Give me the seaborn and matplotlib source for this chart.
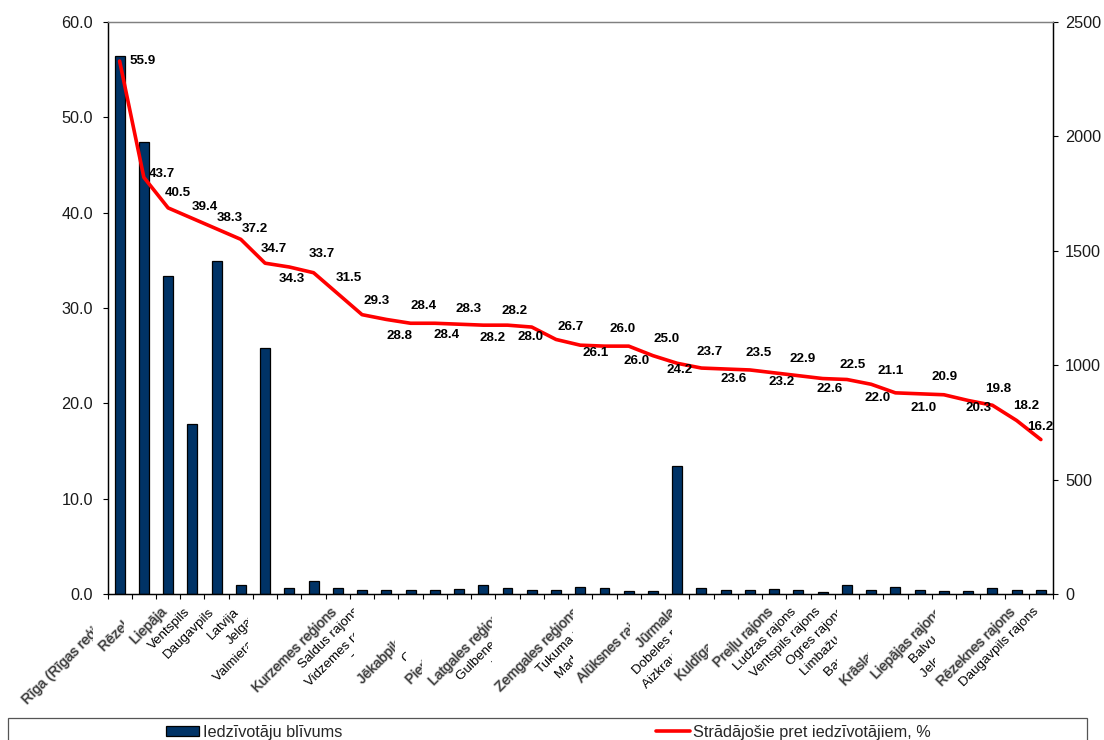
import numpy as np
import matplotlib
matplotlib.use("Agg")
import matplotlib.pyplot as plt
import matplotlib.patheffects as pe
from matplotlib.patches import Rectangle
from matplotlib.transforms import Affine2D, Bbox, IdentityTransform, TransformedBbox
import seaborn as sns

names = ["Rīga (Rīgas reģions)", "Rēzekne", "Liepāja", "Ventspils", "Daugavpils", "Latvija", "Jelgava",
         "Valmieras rajons", "Rīgas rajons", "Kurzemes reģions", "Saldus rajons", "Vidzemes reģions",
         "Talsu rajons", "Jēkabpils rajons", "Cēsu rajons", "Pierīgas reģions", "Latgales reģions",
         "Gulbenes rajons", "Valkas rajons", "Zemgales reģions", "Tukuma rajons", "Madonas rajons",
         "Alūksnes rajons", "Jūrmala", "Dobeles rajons", "Aizkraukles rajons", "Kuldīgas rajons",
         "Preiļu rajons", "Ludzas rajons", "Ventspils rajons", "Ogres rajons", "Limbažu rajons",
         "Bauskas rajons", "Krāslavas rajons", "Liepājas rajons", "Balvu rajons", "Jelgavas rajons",
         "Rēzeknes rajons", "Daugavpils rajons"]

# left axis, %
workers = [55.9, 43.7, 40.5, 39.4, 38.3, 37.2, 34.7, 34.3, 33.7, 31.5, 29.3, 28.8, 28.4, 28.4, 28.3, 28.2,
           28.2, 28.0, 26.7, 26.1, 26.0, 26.0, 25.0, 24.2, 23.7, 23.6, 23.5, 23.2, 22.9, 22.6, 22.5, 22.0,
           21.1, 21.0, 20.9, 20.3, 19.8, 18.2, 16.2]

# right axis
density = [2350, 1975, 1390, 743, 1455, 38, 1075, 25, 56, 25, 19, 19, 19, 19, 21, 40, 26, 17, 17, 30, 25,
           15, 13, 560, 25, 19, 17, 21, 16, 8, 38, 16, 30, 17, 14, 14, 25, 16, 17]

left_ticks = [0, 10, 20, 30, 40, 50, 60]
right_ticks = [0, 500, 1000, 1500, 2000, 2500]

# pixel offset of each value label from its point
label_dx = [23, 18, 10, 12, 13, 14, 9, 2, 8, 11, 15, 13, 13, 12, 10, 9, 7, -1, 15, 15, 18, 8, 14, 2, 8, 8,
            9, 7, 4, 7, 6, 6, -5, 4, 1, 10, 6, 10, -1]
label_dy = [0, 3, 15, 11, 11, 10, 14, -12, 19, 16, 14, -17, 17, -12, 15, -13, 14, -10, 12, -8, 17, -15, 17,
            -7, 16, -10, 17, -9, 17, -10, 15, -14, 22, -14, 18, -8, 16, 14, 13]

# right edge (px) where the neighbouring label box cuts each category label, None = not cut
clip_right = [93, 124, None, None, None, None, 248, 248, 0, None, 354, 354, 354, 395, 406, 422, 492, 492, 492,
              573, 573, 573, 630, 672, 672, 672, 708, None, None, None, 837, 837, 837, 868, 935, 935, 935,
              None, None]
clip_left = [0] * 39
clip_left[14] = 395
big_labels = [0, 1, 2, 9, 13, 15, 16, 19, 22, 23, 26, 27, 33, 34, 37]

sns.set_theme(style="white")
plt.rcParams["font.family"] = ["Liberation Sans", "DejaVu Sans"]

W, H = 1104, 740
fig = plt.figure(figsize=(W / 100, H / 100), dpi=100)
ax_bar = fig.add_axes([107.5 / W, 1 - 594 / H, 945.5 / W, 572 / H])

sns.barplot(x=names, y=density, ax=ax_bar, color="#003366", saturation=1, width=0.41,
            edgecolor="black", linewidth=0.9, label="Iedzīvotāju blīvums")
ax_bar.set_ylim(0, 2500)
ax_bar.set_yticks(right_ticks)

# line goes on the twin so it stays above the bars
ax_line = ax_bar.twinx()
sns.lineplot(x=names, y=workers, ax=ax_line, color="#ff0000", linewidth=2.6, sort=False,
             label="Strādājošie pret iedzīvotājiem, %")
ax_line.set_ylim(0, 60)
ax_line.set_yticks(left_ticks)
ax_line.set_yticklabels([f"{t:.1f}" for t in left_ticks])
# twinx put these the other way round
ax_line.yaxis.tick_left()
ax_bar.yaxis.tick_right()
ax_line.get_legend().remove()
if ax_bar.get_legend():
    ax_bar.get_legend().remove()

for i, v in enumerate(workers):
    ax_line.annotate(f"{v:.1f}", (i, v), xytext=(label_dx[i], label_dy[i]), textcoords="offset pixels",
                     ha="center", va="center", fontsize=9.6, fontweight="bold", color="black")

ax_bar.set_xlim(-0.5, 38.5)
ax_bar.set_xticks(np.arange(-0.5, 39, 1), minor=True)
ax_bar.tick_params(axis="x", which="minor", bottom=True, length=3.6, width=0.8, color="black")
ax_bar.tick_params(axis="x", which="major", bottom=True, length=0, pad=11.5)
for ax, y_pad in ((ax_bar, 5), (ax_line, 6.5)):
    ax.tick_params(axis="y", length=3.8, width=0.8, color="black", labelsize=11.7, labelcolor="#1a1a1a", pad=y_pad)
    for side in ax.spines:
        ax.spines[side].set_linewidth(0.9)
        ax.spines[side].set_color("black")
    ax.spines["top"].set_color("#808080")
    ax.set_xlabel("")
    ax.set_ylabel("")
    ax.grid(False)

ax_bar.set_xticks(range(39))
ax_bar.set_xticklabels(names)
for i, lab in enumerate(ax_bar.get_xticklabels()):
    lab.set_rotation(45)
    lab.set_rotation_mode("anchor")
    lab.set_ha("right")
    lab.set_va("center")
    lab.set_transform(lab.get_transform() + Affine2D().translate(-4, 0))
    if i in big_labels:
        lab.set_fontsize(10.1)
        lab.set_color("#3a3a3a")
        lab.set_path_effects([pe.withStroke(linewidth=1.2, foreground="#9a9a9a", alpha=0.6)])
    else:
        lab.set_fontsize(9.6)
        lab.set_color("black")
    if clip_right[i] is not None:
        box = Bbox.from_extents(clip_left[i], 0, clip_right[i], H)
        lab.set_clip_box(TransformedBbox(box, IdentityTransform()))
        lab.set_clip_on(True)

# legend frame runs off the bottom of the picture
fig.add_artist(Rectangle((8 / W, -0.05), 1079 / W, 0.05 + 1 - 718 / H, transform=fig.transFigure,
                         facecolor="white", edgecolor="#555555", linewidth=0.9))
handles = ax_bar.containers[0].patches[:1] + ax_line.get_lines()[:1]
leg = fig.legend(handles, ["Iedzīvotāju blīvums", "Strādājošie pret iedzīvotājiem, %"], ncol=2, frameon=False,
                 loc="center left", bbox_to_anchor=(166 / W, 1 - 732 / H), borderaxespad=0, borderpad=0,
                 fontsize=11.7, handlelength=2.05, handleheight=0.6, handletextpad=0.2, columnspacing=19.35)

fig.savefig("out.png", dpi=100)
